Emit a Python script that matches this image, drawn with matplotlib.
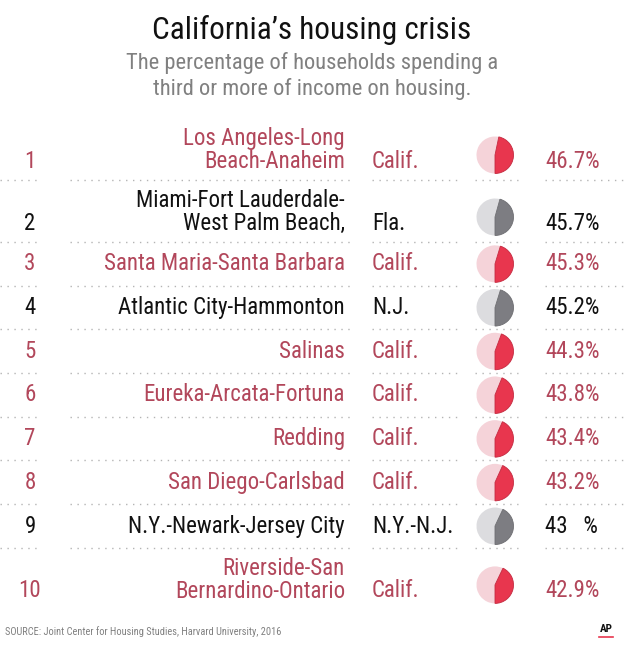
import numpy as np
import matplotlib
matplotlib.use("Agg")
import matplotlib.pyplot as plt
from matplotlib import font_manager
from matplotlib.patches import Wedge

# data
ranks = [1, 2, 3, 4, 5, 6, 7, 8, 9, 10]
metros = ["Los Angeles-Long\nBeach-Anaheim", "Miami-Fort Lauderdale-\nWest Palm Beach,",
          "Santa Maria-Santa Barbara", "Atlantic City-Hammonton", "Salinas",
          "Eureka-Arcata-Fortuna", "Redding", "San Diego-Carlsbad",
          "N.Y.-Newark-Jersey City", "Riverside-San\nBernardino-Ontario"]
states = ["Calif.", "Fla.", "Calif.", "N.J.", "Calif.", "Calif.", "Calif.", "Calif.", "N.Y.-N.J.", "Calif."]
pcts = [46.7, 45.7, 45.3, 45.2, 44.3, 43.8, 43.4, 43.2, 43.0, 42.9]
pct_labels = ["46.7%", "45.7%", "45.3%", "45.2%", "44.3%", "43.8%", "43.4%", "43.2%", "43   %", "42.9%"]

have = {f.name for f in font_manager.fontManager.ttflist}
FONT = next((f for f in ["Roboto Condensed", "Liberation Sans Narrow", "Roboto"] if f in have), "DejaVu Sans")
plt.rcParams["font.family"] = [FONT, "DejaVu Sans"]

RED_TXT = "#b2475b"
RED = "#e8364e"
PINK = "#f5d3d9"
DGRAY = "#7d7d82"
LGRAY = "#dcdcdf"
DOT = "#b4b4b4"
FS = 16.5

fig = plt.figure(figsize=(6.24, 6.5), dpi=100)
ax = fig.add_axes([0, 0, 1, 1])
ax.set_xlim(0, 624)
ax.set_ylim(650, 0)
ax.axis("off")

ax.text(312, 30, "California\u2019s housing crisis", ha="center", va="center", fontsize=22.5, color="#111111")
ax.text(312, 76, "The percentage of households spending a\nthird or more of income on housing.",
        ha="center", va="center", fontsize=16.2, color="#808080", linespacing=1.22)

segs = [(0, 40), (70, 350), (372, 462), (475, 518), (545, 624)]

top = 118
for i in range(len(ranks)):
    two = "\n" in metros[i]
    h = 62 if two else 43.7
    cy = top + h / 2
    low = cy + 12 if two else cy
    pie_y = cy + 6 if two else cy
    calif = states[i] == "Calif."
    tc = RED_TXT if calif else "#111111"
    ax.text(30, low, str(ranks[i]), ha="center", va="center", fontsize=FS, color=tc)
    ax.text(345, cy + (1 if two else 0), metros[i], ha="right", va="center", fontsize=FS, color=tc,
            linespacing=1.0)
    ax.text(372, low, states[i], ha="left", va="center", fontsize=FS, color=tc)
    ax.text(545, low, pct_labels[i], ha="left", va="center", fontsize=FS, color=tc)
    hi, lo = (RED, PINK) if calif else (DGRAY, LGRAY)
    ang = pcts[i] / 100 * 360
    ax.add_patch(Wedge((495, pie_y), 18.5, 90, 90 + 360 - ang, facecolor=lo, edgecolor="none"))
    ax.add_patch(Wedge((495, pie_y), 18.5, 90 - ang, 90, facecolor=hi,
                       edgecolor="#c42a40" if calif else "#6e6e72", linewidth=0.6))
    top += h
    if i < len(ranks) - 1:
        for a, b in segs:
            ax.plot([a, b], [top, top], color=DOT, linewidth=1, linestyle=(0, (1, 4)))

ax.text(5, 632, "SOURCE: Joint Center for Housing Studies, Harvard University, 2016",
        ha="left", va="center", fontsize=7.5, color="#808080")
ax.text(606, 629, "AP", ha="center", va="center", fontsize=8, fontweight="bold", color="#111111")
ax.plot([599, 613], [637, 637], color=RED, linewidth=1.2)

fig.savefig("out.png", dpi=100)
